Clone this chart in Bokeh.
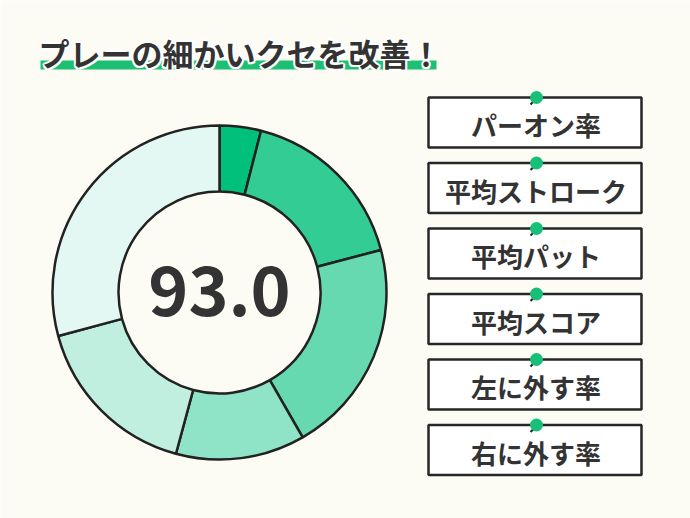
import math
from bokeh.plotting import figure
from bokeh.models import Range1d
from bokeh.core.properties import value
from bokeh.embed import file_html
from bokeh.resources import INLINE

# ---- data ----
title_text = "プレーの細かいクセを改善！"
center_value = "93.0"
categories = ["パーオン率", "平均ストローク", "平均パット", "平均スコア", "左に外す率", "右に外す率"]
segment_values = [4.0, 16.9, 20.8, 12.5, 16.6, 29.2]
segment_colors = ["#00C07C", "#33CC94", "#66D9B0", "#8FE3C6", "#C0EFE0", "#E3F8F2"]

W, H = 690, 518
BG = "#FDFCF4"
DARK = "#333333"
FONT = "Noto Sans CJK JP"

p = figure(width=W, height=H, output_backend="svg", toolbar_location=None,
           x_range=Range1d(0, W), y_range=Range1d(0, H),
           background_fill_color=BG, border_fill_color=BG, min_border=0,
           outline_line_color=None)
p.axis.visible = False
p.grid.visible = False

def Y(py):
    return H - py

# ---- title ----
p.quad(left=[40], right=[436], top=[Y(60)], bottom=[Y(69)], fill_color="#1DBF73", line_color=None)
tx, ty = 38, Y(52)
offs = [(-2, 0), (2, 0), (0, -2), (0, 2), (-1.5, -1.5), (1.5, 1.5), (-1.5, 1.5), (1.5, -1.5)]
p.text(x=[tx + dx for dx, dy in offs], y=[ty + dy for dx, dy in offs], text=[title_text] * len(offs),
       text_font=value(FONT), text_font_style="bold", text_font_size="31px", text_color="white",
       text_align="left", text_baseline="middle")
p.text(x=[tx], y=[ty], text=[title_text], text_font=value(FONT), text_font_style="bold",
       text_font_size="31px", text_color=DARK, text_align="left", text_baseline="middle")

# ---- donut ----
total = sum(segment_values)
starts, ends = [], []
cum = 0.0
for v in segment_values:
    starts.append(math.pi / 2 - 2 * math.pi * cum / total)
    cum += v
    ends.append(math.pi / 2 - 2 * math.pi * cum / total)
cx, cy = 219, Y(292)
p.annular_wedge(x=[cx] * len(segment_values), y=[cy] * len(segment_values),
                inner_radius=101, outer_radius=167,
                start_angle=starts, end_angle=ends, direction="clock",
                fill_color=segment_colors, line_color="#222222", line_width=2.5)
p.text(x=[cx], y=[cy + 2], text=[center_value], text_font=value(FONT), text_font_style="bold",
       text_font_size="68px", text_color=DARK, text_align="center", text_baseline="middle")

# ---- label boxes ----
n = len(categories)
tops = [97 + 65.5 * i for i in range(n)]
bx_l, bx_r = 428, 641
bx_c = (bx_l + bx_r) / 2
p.quad(left=[bx_l] * n, right=[bx_r] * n, top=[Y(t) for t in tops], bottom=[Y(t + 50) for t in tops],
       fill_color="white", line_color="#262626", line_width=2.5)
p.text(x=[bx_c + 1] * n, y=[Y(t + 27) for t in tops], text=categories, text_font=value(FONT),
       text_font_style="bold", text_font_size="26px", text_color=DARK,
       text_align="center", text_baseline="middle")
# pins
p.segment(x0=[534] * n, y0=[Y(t + 3) for t in tops], x1=[530] * n, y1=[Y(t + 7) for t in tops],
          line_color="#222222", line_width=2)
p.scatter(x=[536] * n, y=[Y(t) for t in tops], size=13, marker="circle",
          fill_color="#17BF78", line_color=None)

open("out.html", "w").write(file_html(p, INLINE))
